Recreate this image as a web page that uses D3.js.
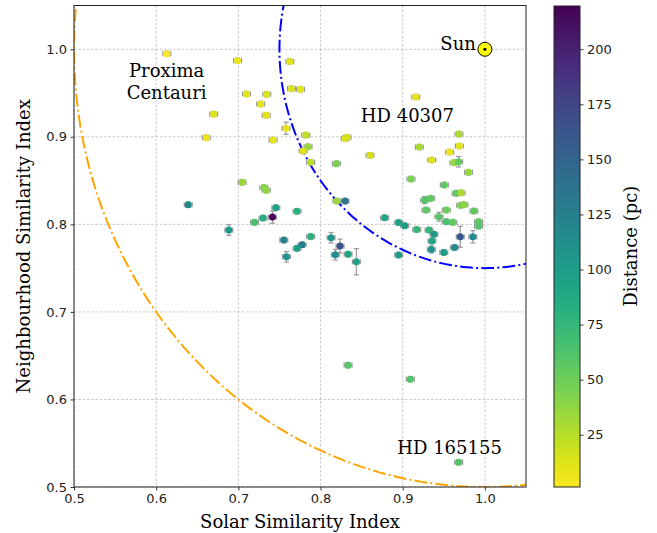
<!DOCTYPE html>
<html><head><meta charset="utf-8">
<script src="https://cdn.jsdelivr.net/npm/d3@7"></script>
<style>body{margin:0;background:#fff;} svg{display:block;}</style>
</head><body>
<svg id="c" width="657" height="533"></svg>
<script>
// ---- data ----
const solarIdx = [0.613,0.699,0.7626,0.710,0.7346,0.727,0.7338,0.670,0.661,0.7646,0.7756,0.758,0.7423,0.782,0.7848,0.7788,0.7046,0.731,0.734,0.788,0.8193,0.8299,0.8323,0.8602,0.9158,0.9684,0.9689,0.957,0.9202,0.9352,0.9623,0.968,0.980,0.910,0.9506,0.965,0.971,0.9267,0.934,0.9283,0.953,0.9705,0.9745,0.9866,0.944,0.953,0.961,0.9923,0.9923,0.917,0.932,0.938,0.9355,0.9348,0.970,0.9854,0.963,0.950,0.878,0.895,0.9024,0.895,0.820,0.8299,0.7714,0.788,0.7776,0.7714,0.8128,0.8237,0.818,0.8335,0.8436,0.639,0.6884,0.7456,0.730,0.7415,0.7197,0.7553,0.7585,0.8335,0.9093,0.968];
const neighIdx = [0.995,0.987,0.986,0.949,0.9486,0.9375,0.9246,0.926,0.899,0.955,0.9543,0.9097,0.8963,0.902,0.8887,0.8838,0.848,0.842,0.839,0.8709,0.8693,0.898,0.8994,0.8789,0.9455,0.9032,0.8895,0.8826,0.8883,0.8735,0.8704,0.8715,0.8594,0.8518,0.845,0.8354,0.836,0.8278,0.8297,0.8163,0.8163,0.8217,0.8224,0.8152,0.8087,0.803,0.8023,0.803,0.798,0.794,0.7935,0.7886,0.781,0.7714,0.7858,0.7858,0.7737,0.768,0.8075,0.802,0.7984,0.765,0.8266,0.8266,0.815,0.786,0.7767,0.7726,0.7847,0.7752,0.7653,0.766,0.7573,0.8224,0.7935,0.819,0.8072,0.8083,0.8023,0.782,0.763,0.6392,0.6232,0.5283];
const distPc = [1.3,8,12,10,14,12,10,12,8,14,12,10,10,22,35,12,35,42,38,25,45,12,15,15,10,30,10,8,30,12,35,55,35,45,55,55,30,60,55,55,50,45,40,55,60,65,55,55,60,75,75,105,90,110,160,115,115,100,90,95,100,100,35,135,80,80,130,95,105,165,115,90,95,115,105,95,85,215,65,125,105,60,60,60];
const neighErr = [0.003,0.003,0.003,0.003,0.003,0.003,0.003,0.003,0.003,0.003,0.003,0.007,0.003,0.003,0.003,0.003,0.003,0.003,0.003,0.003,0.003,0.003,0.003,0.003,0.003,0.003,0.003,0.003,0.003,0.003,0.003,0.006,0.003,0.003,0.003,0.003,0.003,0.004,0.003,0.003,0.003,0.003,0.003,0.003,0.005,0.003,0.003,0.003,0.003,0.003,0.003,0.003,0.003,0.004,0.012,0.007,0.003,0.003,0.003,0.003,0.003,0.003,0.003,0.003,0.003,0.003,0.003,0.003,0.006,0.008,0.006,0.003,0.015,0.003,0.006,0.003,0.003,0.007,0.003,0.003,0.006,0.003,0.003,0.003];
const solarErr = solarIdx.map(() => 0.0048);
const sunPoint = [1.0, 1.0];
const circleRadii = [0.25, 0.5];
const circleColors = ["#0000ff", "#ffa500"];
const xTicks = [0.5,0.6,0.7,0.8,0.9,1.0];
const yTicks = [0.5,0.6,0.7,0.8,0.9,1.0];
const cbTicks = [25,50,75,100,125,150,175,200];
const cbDomain = [1.3, 219.6];
const annoText = ["Proxima", "Centauri", "HD 40307", "HD 165155", "Sun"];

// ---- layout ----
const svg = d3.select("#c");
const L = 74, R = 526, T = 5.5, B = 487;
const x = d3.scaleLinear().domain([0.5, 1.05]).range([L, R]);
const y = d3.scaleLinear().domain([0.5, 1.05]).range([B, T]);
const color = d3.scaleSequential(t => d3.interpolateViridis(1 - t)).domain(cbDomain);
const serif = "'DejaVu Serif', serif";
const sans = "'DejaVu Sans', sans-serif";

svg.append("defs").append("clipPath").attr("id","clip")
  .append("rect").attr("x",L).attr("y",T).attr("width",R-L).attr("height",B-T);

// grid
const grid = svg.append("g");
grid.selectAll(".gx").data(xTicks).join("line")
  .attr("x1", d=>x(d)).attr("x2", d=>x(d)).attr("y1", T).attr("y2", B)
  .attr("stroke","#b0b0b0").attr("stroke-width",0.7).attr("stroke-dasharray","2.5,1.8");
grid.selectAll(".gy").data(yTicks).join("line")
  .attr("y1", d=>y(d)).attr("y2", d=>y(d)).attr("x1", L).attr("x2", R)
  .attr("stroke","#b0b0b0").attr("stroke-width",0.7).attr("stroke-dasharray","2.5,1.8");

// circles
const cg = svg.append("g").attr("clip-path","url(#clip)");
const angles = d3.range(0, 361, 1).map(a => a * Math.PI / 180);
circleRadii.forEach((r, i) => {
  const line = d3.line().x(a => x(sunPoint[0] + r*Math.cos(a))).y(a => y(sunPoint[1] + r*Math.sin(a)));
  cg.append("path").attr("d", line(angles)).attr("fill","none")
    .attr("stroke", circleColors[i]).attr("stroke-width", 2)
    .attr("stroke-dasharray","12.8,3.2,2,3.2");
});

// error bars + points
const pts = solarIdx.map((s,i)=>({s, n:neighIdx[i], d:distPc[i], es:solarErr[i], en:neighErr[i]}));
const eg = svg.append("g").attr("stroke","#8a8a8a").attr("stroke-width",1.2).attr("stroke-opacity",0.85);
const cap = 2.6;
pts.forEach(p => {
  const px = x(p.s), py = y(p.n);
  const x0 = x(p.s - p.es), x1 = x(p.s + p.es);
  const y0 = y(p.n - p.en), y1 = y(p.n + p.en);
  eg.append("line").attr("x1",x0).attr("x2",x1).attr("y1",py).attr("y2",py);
  eg.append("line").attr("x1",x0).attr("x2",x0).attr("y1",py-cap).attr("y2",py+cap);
  eg.append("line").attr("x1",x1).attr("x2",x1).attr("y1",py-cap).attr("y2",py+cap);
  eg.append("line").attr("x1",px).attr("x2",px).attr("y1",y0).attr("y2",y1);
  eg.append("line").attr("x1",px-cap).attr("x2",px+cap).attr("y1",y0).attr("y2",y0);
  eg.append("line").attr("x1",px-cap).attr("x2",px+cap).attr("y1",y1).attr("y2",y1);
});
svg.append("g").selectAll("circle").data(pts).join("circle")
  .attr("cx", d=>x(d.s)).attr("cy", d=>y(d.n)).attr("r", 3.5)
  .attr("fill", d=>color(d.d));

// sun
svg.append("circle").attr("cx",x(sunPoint[0])).attr("cy",y(sunPoint[1])).attr("r",7)
  .attr("fill","#ffff00").attr("stroke","#000").attr("stroke-width",1);
svg.append("circle").attr("cx",x(sunPoint[0])).attr("cy",y(sunPoint[1])).attr("r",1.6).attr("fill","#000");

// annotations
const at = (t, xv, yv, anchor) => svg.append("text").attr("x", x(xv)).attr("y", y(yv))
  .attr("text-anchor", anchor).attr("font-family", serif).attr("font-size", 18).attr("fill","#000").text(t);
at(annoText[0], 0.6127, 0.968, "middle");
at(annoText[1], 0.6127, 0.943, "middle");
at(annoText[2], 0.9057, 0.917, "middle");
at(annoText[3], 0.957, 0.538, "middle");
at(annoText[4], 0.989, 0.999, "end");

// axes
const xa = svg.append("g").attr("transform",`translate(0,${B})`)
  .call(d3.axisBottom(x).tickValues(xTicks).tickFormat(d3.format(".1f")).tickSize(3.5).tickPadding(3.5).tickSizeOuter(0));
const ya = svg.append("g").attr("transform",`translate(${L},0)`)
  .call(d3.axisLeft(y).tickValues(yTicks).tickFormat(d3.format(".1f")).tickSize(3.5).tickPadding(3.5).tickSizeOuter(0));
[xa, ya].forEach(a => {
  a.select(".domain").remove();
  a.selectAll("text").attr("font-family", sans).attr("font-size", 13).attr("fill","#222");
  a.selectAll("line").attr("stroke","#222").attr("stroke-width",0.9);
});
svg.append("rect").attr("x",L).attr("y",T).attr("width",R-L).attr("height",B-T)
  .attr("fill","none").attr("stroke","#222").attr("stroke-width",1);

svg.append("text").attr("x",(L+R)/2).attr("y",528).attr("text-anchor","middle")
  .attr("font-family",serif).attr("font-size",18).text("Solar Similarity Index");
svg.append("text").attr("transform",`translate(30,${(T+B)/2}) rotate(-90)`).attr("text-anchor","middle")
  .attr("font-family",serif).attr("font-size",18).text("Neighbourhood Similarity Index");

// colorbar
const CL = 554, CR = 580;
const cy = d3.scaleLinear().domain(cbDomain).range([B, T+0.5]);
const grad = svg.select("defs").append("linearGradient").attr("id","cbg")
  .attr("x1",0).attr("x2",0).attr("y1",1).attr("y2",0);
d3.range(0, 1.0001, 0.05).forEach(t => grad.append("stop").attr("offset", t)
  .attr("stop-color", d3.interpolateViridis(1 - t)));
svg.append("rect").attr("x",CL).attr("y",cy(cbDomain[1])).attr("width",CR-CL)
  .attr("height",cy(cbDomain[0])-cy(cbDomain[1])).attr("fill","url(#cbg)")
  .attr("stroke","#222").attr("stroke-width",1);
const ca = svg.append("g").attr("transform",`translate(${CR},0)`)
  .call(d3.axisRight(cy).tickValues(cbTicks).tickSize(3.5).tickPadding(3.5).tickSizeOuter(0));
ca.select(".domain").remove();
ca.selectAll("text").attr("font-family", sans).attr("font-size", 13).attr("fill","#222");
ca.selectAll("line").attr("stroke","#222").attr("stroke-width",0.9);
svg.append("text").attr("transform",`translate(637,${(T+B)/2}) rotate(-90)`).attr("text-anchor","middle")
  .attr("font-family",serif).attr("font-size",18).text("Distance (pc)");
</script>
</body></html>
